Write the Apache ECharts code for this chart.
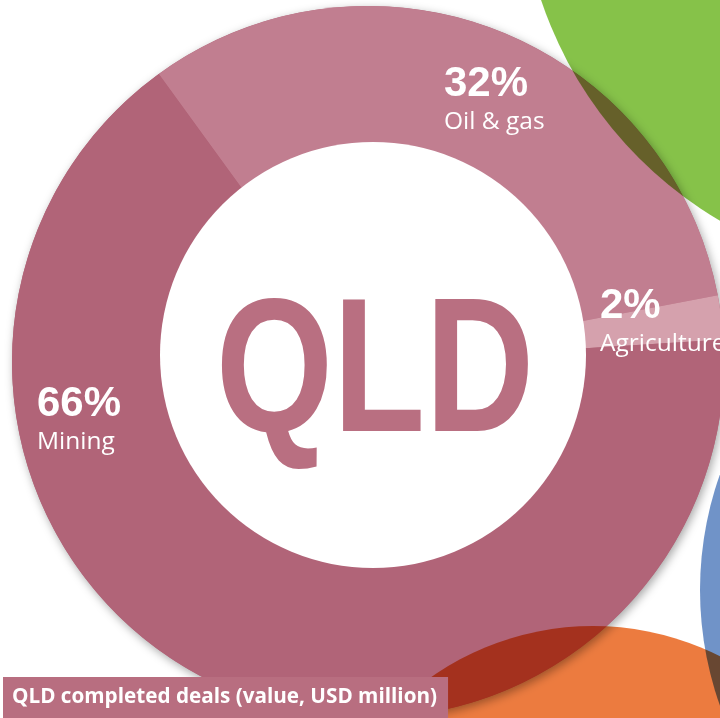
<!DOCTYPE html>
<html>
<head>
<meta charset="utf-8">
<script src="https://cdn.jsdelivr.net/npm/echarts@6/dist/echarts.min.js"></script>
<style>
html,body{margin:0;padding:0;background:#fff;}
#chart{width:720px;height:718px;}
</style>
</head>
<body>
<div id="chart"></div>
<script>
// ---- data ----
const sectors = ['Oil & gas', 'Agriculture', 'Mining'];
const shares = [32, 2, 66];           // % of QLD completed deal value
const sectorColors = ['#C17E90', '#D5A1AD', '#B16478'];
const centerText = 'QLD';
const chartTitle = 'QLD completed deals (value, USD million)';
// label anchors (top-left of each label block, px)
const labelAnchors = [[444, 61], [600, 283], [37, 381]];

// decorative neighbouring circles (other states) – partially visible
const neighbourColors = ['#86C249', '#EC7B3F', '#7093C8'];
const neighbourCenters = [[926, -129], [593, 908], [1045, 590]];
const neighbourRadii = [406, 282, 345];

const C_OUT = [368, 362], R_OUT = 356;
const C_IN = [373, 355], R_IN = 213;

const chart = echarts.init(document.getElementById('chart'), null, {renderer: 'canvas'});

const series = [];
// shadow disc under the donut
series.push({
  type: 'pie', silent: true, animation: false,
  center: C_OUT, radius: [0, R_OUT],
  label: {show: false}, labelLine: {show: false},
  data: [{value: 1, itemStyle: {color: '#B16478', shadowBlur: 10, shadowColor: 'rgba(0,0,0,0.35)', shadowOffsetX: 2, shadowOffsetY: 3}}]
});
// the sector slices
series.push({
  type: 'pie', silent: true, animation: false,
  center: C_OUT, radius: [0, R_OUT],
  startAngle: 126, clockwise: true,
  avoidLabelOverlap: false,
  itemStyle: {borderWidth: 0},
  label: {
    show: true, position: 'inside',
    formatter: function (p) { return '{p|' + p.value + '%}\n{n|' + p.name + '}'; },
    rich: {
      p: {fontFamily: 'Liberation Sans', fontWeight: 'bold', fontSize: 42, lineHeight: 46, color: '#fff', align: 'left'},
      n: {fontFamily: 'Open Sans', fontSize: 24.5, lineHeight: 30, color: '#fff', align: 'left'}
    }
  },
  labelLine: {show: false},
  labelLayout: function (params) {
    const a = labelAnchors[params.dataIndex];
    return {x: a[0], y: a[1], align: 'left', verticalAlign: 'top'};
  },
  data: sectors.map((s, i) => ({name: s, value: shares[i], itemStyle: {color: sectorColors[i]}}))
});
// white hole
series.push({
  type: 'pie', silent: true, animation: false,
  center: C_IN, radius: [0, R_IN],
  label: {show: false}, labelLine: {show: false},
  data: [{value: 1, itemStyle: {color: '#ffffff'}}]
});
// neighbouring circles, multiplied
neighbourColors.forEach((col, i) => {
  series.push({
    type: 'pie', silent: true, animation: false,
    blendMode: 'multiply',
    center: neighbourCenters[i], radius: [0, neighbourRadii[i]],
    label: {show: false}, labelLine: {show: false},
    data: [{value: 1, itemStyle: {color: col}}]
  });
});

chart.setOption({
  backgroundColor: '#ffffff',
  animation: false,
  title: {
    text: chartTitle,
    left: 3, bottom: 0,
    backgroundColor: '#B86E80',
    padding: [10, 11, 10, 9],
    textStyle: {fontFamily: 'Open Sans', fontWeight: 'bold', fontSize: 20.7, lineHeight: 21, color: '#ffffff'}
  },
  graphic: [{
    type: 'text', z: 100,
    x: 375, y: 378,
    scaleX: 0.79,
    style: {
      text: centerText,
      x: 0, y: 0,
      fill: '#B96F81',
      fontFamily: 'Liberation Sans',
      fontWeight: 'bold',
      fontSize: 191,
      align: 'center', verticalAlign: 'middle'
    }
  }],
  series: series
});
</script>
</body>
</html>
